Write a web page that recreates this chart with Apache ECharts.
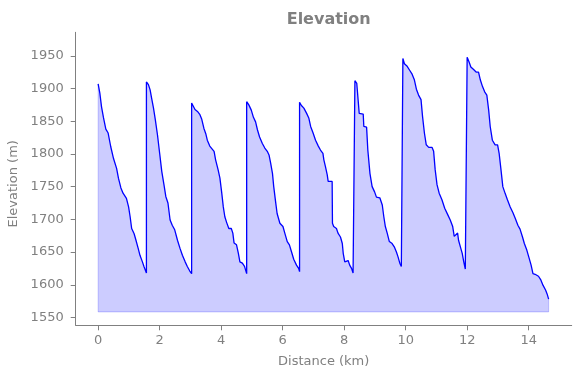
<!DOCTYPE html>
<html><head><meta charset="utf-8">
<script src="https://cdn.jsdelivr.net/npm/echarts@6/dist/echarts.min.js"></script>
<style>html,body{margin:0;padding:0;background:#fff}#c{width:580px;height:378px}</style>
</head><body><div id="c"></div>
<script>
const distanceKm = [
0,0.055,0.11,0.175,0.25,0.325,0.41,0.5,0.6,0.66,0.74,0.81,0.92,0.99,1.04,1.09,1.17,1.23,1.30,1.36,1.44,1.49,1.57,
1.57,1.635,1.69,1.74,1.80,1.86,1.93,2.00,2.07,2.14,2.20,2.27,2.34,2.41,2.49,2.58,2.66,2.74,2.83,2.90,2.98,3.04,
3.04,3.10,3.15,3.23,3.31,3.37,3.44,3.50,3.55,3.63,3.69,3.77,3.82,3.90,3.96,4.02,4.07,4.12,4.18,4.25,4.33,4.38,4.42,4.50,4.56,4.61,4.69,4.76,4.83,
4.83,4.90,4.98,5.05,5.12,5.18,5.25,5.34,5.42,5.50,5.56,5.61,5.67,5.71,5.77,5.82,5.91,6.01,6.07,6.15,6.22,6.29,6.36,6.45,6.52,6.55,
6.55,6.61,6.69,6.78,6.85,6.91,6.99,7.07,7.16,7.23,7.31,7.34,7.39,7.45,7.48,7.61,7.62,7.66,7.75,7.80,7.88,7.94,7.97,8.02,8.08,8.13,8.18,8.24,8.29,8.35,
8.35,8.41,8.47,8.49,8.62,8.64,8.73,8.77,8.84,8.91,8.99,9.05,9.16,9.24,9.29,9.34,9.40,9.47,9.56,9.63,9.70,9.75,9.81,9.86,9.90,
9.91,9.96,10.05,10.13,10.21,10.28,10.35,10.42,10.50,10.55,10.61,10.67,10.75,10.86,10.91,10.96,11.02,11.09,11.18,11.27,11.36,11.45,11.53,11.58,11.64,11.69,11.72,11.78,11.84,11.89,11.94,12.00,
12.00,12.06,12.12,12.21,12.30,12.37,12.43,12.50,12.57,12.64,12.70,12.75,12.82,12.91,12.99,13.04,13.10,13.16,13.24,13.31,13.40,13.49,13.56,13.65,13.72,13.80,13.86,13.94,14.02,14.08,14.14,14.21,14.32,14.40,14.47,14.55,14.60,14.65
];
const elevationM = [
1907,1893,1872,1855,1838,1832,1811,1793,1778,1763,1748,1740,1732,1719,1704,1686,1678,1668,1656,1645,1635,1628,1618,
1910,1906,1898,1885,1870,1852,1829,1801,1773,1753,1735,1725,1699,1691,1684,1668,1656,1645,1635,1628,1621,1617,
1878,1875,1868,1865,1860,1853,1839,1831,1821,1812,1809,1804,1791,1776,1763,1740,1719,1704,1695,1686,1686,1679,1664,1661,1648,1635,1633,1628,1617,
1880,1875,1867,1856,1849,1837,1826,1816,1809,1804,1798,1786,1770,1750,1727,1709,1694,1689,1679,1666,1661,1650,1639,1630,1625,1620,
1879,1874,1870,1862,1855,1842,1832,1821,1812,1806,1801,1791,1781,1768,1758,1758,1694,1689,1686,1679,1673,1663,1648,1635,1635,1637,1630,1625,1618,1616,
1912,1908,1907,1862,1861,1842,1841,1806,1770,1750,1742,1734,1733,1722,1704,1689,1679,1666,1663,1658,1650,1643,1633,1628,1625,
1946,1938,1934,1928,1922,1914,1899,1890,1883,1857,1832,1814,1810,1810,1804,1776,1753,1740,1730,1717,1708,1699,1689,1674,1673,1679,1668,1658,1648,1635,1624,1623,
1948,1941,1933,1929,1925,1925,1913,1903,1895,1890,1867,1842,1821,1814,1814,1801,1776,1750,1739,1730,1719,1710,1702,1691,1685,1673,1663,1653,1640,1630,1617,1616,1613,1607,1599,1592,1586,1578
];
const xTicks = [0,2,4,6,8,10,12,14];
const yTicks = [1550,1600,1650,1700,1750,1800,1850,1900,1950];
const fillBase = 1558.5;

const profile = distanceKm.map((d,i)=>[d, elevationM[i]]);
const n = distanceKm.length;
const edge = [[distanceKm[n-1], elevationM[n-1]],[distanceKm[n-1], fillBase],[distanceKm[0], fillBase],[distanceKm[0], elevationM[0]]];

const gray = '#808080';
const font = 'DejaVu Sans';
const plain = v => String(v);
const chart = echarts.init(document.getElementById('c'), null, {renderer:'canvas'});
chart.setOption({
  animation:false,
  backgroundColor:'#fff',
  title:{text:'Elevation', left:323.7, textAlign:'center', top:7,
    textStyle:{fontFamily:font, fontSize:16, fontWeight:'bold', color:gray}},
  grid:{left:75.7, right:8.3, top:32.3, bottom:52.7, containLabel:false, outerBoundsMode:'none'},
  xAxis:{type:'value', min:-0.73, max:15.4,
    name:'Distance (km)', nameLocation:'middle', nameGap:30,
    nameTextStyle:{fontFamily:font, fontSize:13, color:gray},
    axisLine:{show:true, onZero:false, lineStyle:{color:gray, width:1}},
    axisTick:{show:true, length:5, lineStyle:{color:gray}, customValues:xTicks},
    axisLabel:{fontFamily:font, fontSize:13, color:gray, margin:9, customValues:xTicks, formatter:plain},
    splitLine:{show:false}},
  yAxis:{type:'value', min:1538, max:1986,
    name:'Elevation (m)', nameLocation:'middle', nameGap:52,
    nameTextStyle:{fontFamily:font, fontSize:13, color:gray, padding:[0,10,0,0]},
    axisLine:{show:true, onZero:false, lineStyle:{color:gray, width:1}},
    axisTick:{show:true, length:5, lineStyle:{color:gray}, customValues:yTicks},
    axisLabel:{fontFamily:font, fontSize:13, color:gray, margin:12, customValues:yTicks, formatter:plain},
    splitLine:{show:false}},
  series:[
    {type:'line', data:profile, symbol:'none', z:2,
      lineStyle:{color:'#0000ff', width:1.3},
      areaStyle:{color:'rgba(0,0,255,0.2)', opacity:1, origin:fillBase}},
    {type:'line', data:edge, symbol:'none', z:1,
      lineStyle:{color:'rgba(0,0,255,0.2)', width:1}}
  ]
});
</script></body></html>
